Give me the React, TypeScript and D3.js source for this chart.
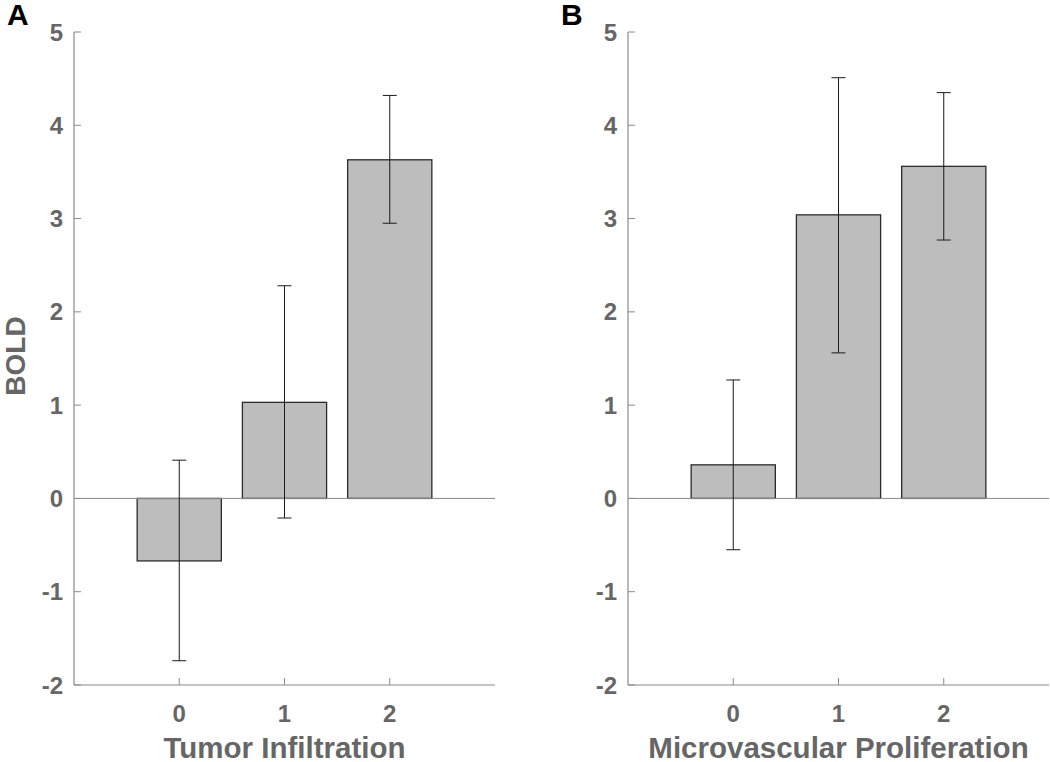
import React, { useEffect, useRef } from 'react';
import * as d3 from 'd3';

// categories and values
const categories = [0, 1, 2];
const tumorMeans = [-0.67, 1.03, 3.63];
const tumorLower = [-1.74, -0.21, 2.95];
const tumorUpper = [0.41, 2.28, 4.32];
const mvpMeans = [0.36, 3.04, 3.56];
const mvpLower = [-0.55, 1.56, 2.77];
const mvpUpper = [1.27, 4.51, 4.35];
const yTicks = [-2, -1, 0, 1, 2, 3, 4, 5];

const W = 1050;
const H = 762;
const FONT = '"Liberation Sans", Arial, Helvetica, sans-serif';
const AXIS = '#8a8a8a';
const LABEL = '#666666';

interface Panel {
    letter: string;
    title: string;
    means: number[];
    lower: number[];
    upper: number[];
    x0: number;
    x1: number;
}

const panels: Panel[] = [
    { letter: 'A', title: 'Tumor Infiltration', means: tumorMeans, lower: tumorLower, upper: tumorUpper, x0: 74, x1: 495 },
    { letter: 'B', title: 'Microvascular Proliferation', means: mvpMeans, lower: mvpLower, upper: mvpUpper, x0: 628, x1: 1049 },
];

const App: React.FC = () => {
    const svgRef = useRef<SVGSVGElement>(null);

    useEffect(() => {
        if (!svgRef.current) return;
        const svg = d3.select(svgRef.current);
        svg.selectAll('*').remove();

        const y = d3.scaleLinear().domain([-2, 5]).range([685, 32]);

        panels.forEach(p => {
            const x = d3.scaleLinear().domain([-1, 3]).range([p.x0, p.x1]);
            const bw = (x(1) - x(0)) * 0.8;
            const g = svg.append('g');

            // panel letter
            g.append('text')
                .attr('x', p.x0 - 67)
                .attr('y', 25)
                .attr('font-family', FONT)
                .attr('font-weight', 'bold')
                .attr('font-size', '30px')
                .attr('fill', '#000')
                .text(p.letter);

            // bars
            g.selectAll('rect.bar')
                .data(p.means)
                .enter()
                .append('rect')
                .attr('class', 'bar')
                .attr('x', (_, i) => x(categories[i]) - bw / 2)
                .attr('width', bw)
                .attr('y', d => y(Math.max(d, 0)))
                .attr('height', d => Math.abs(y(d) - y(0)))
                .attr('fill', '#bdbdbd')
                .attr('stroke', '#2b2b2b')
                .attr('stroke-width', 1.3);

            // zero line
            g.append('line')
                .attr('x1', p.x0)
                .attr('x2', p.x1)
                .attr('y1', y(0))
                .attr('y2', y(0))
                .attr('stroke', AXIS)
                .attr('stroke-width', 1);

            // error bars
            categories.forEach((c, i) => {
                const cx = x(c);
                const eb = g.append('g').attr('stroke', '#1a1a1a').attr('stroke-width', 1);
                eb.append('line').attr('x1', cx).attr('x2', cx).attr('y1', y(p.lower[i])).attr('y2', y(p.upper[i]));
                eb.append('line').attr('x1', cx - 7).attr('x2', cx + 7).attr('y1', y(p.upper[i])).attr('y2', y(p.upper[i]));
                eb.append('line').attr('x1', cx - 7).attr('x2', cx + 7).attr('y1', y(p.lower[i])).attr('y2', y(p.lower[i]));
            });

            // y axis
            g.append('line')
                .attr('x1', p.x0).attr('x2', p.x0)
                .attr('y1', y(5)).attr('y2', y(-2))
                .attr('stroke', AXIS).attr('stroke-width', 1.2);
            yTicks.forEach(t => {
                g.append('line')
                    .attr('x1', p.x0).attr('x2', p.x0 + 7)
                    .attr('y1', y(t)).attr('y2', y(t))
                    .attr('stroke', AXIS).attr('stroke-width', 1);
                g.append('text')
                    .attr('x', p.x0 - 11)
                    .attr('y', y(t))
                    .attr('dy', '0.36em')
                    .attr('text-anchor', 'end')
                    .attr('font-family', FONT)
                    .attr('font-weight', 'bold')
                    .attr('font-size', '24px')
                    .attr('fill', LABEL)
                    .text(t);
            });

            // x axis
            g.append('line')
                .attr('x1', p.x0).attr('x2', p.x1)
                .attr('y1', y(-2)).attr('y2', y(-2))
                .attr('stroke', AXIS).attr('stroke-width', 1.2);
            categories.forEach(c => {
                g.append('line')
                    .attr('x1', x(c)).attr('x2', x(c))
                    .attr('y1', y(-2)).attr('y2', y(-2) - 7)
                    .attr('stroke', AXIS).attr('stroke-width', 1);
                g.append('text')
                    .attr('x', x(c))
                    .attr('y', 722)
                    .attr('text-anchor', 'middle')
                    .attr('font-family', FONT)
                    .attr('font-weight', 'bold')
                    .attr('font-size', '24px')
                    .attr('fill', LABEL)
                    .text(c);
            });

            // x title
            g.append('text')
                .attr('x', x(1))
                .attr('y', 758)
                .attr('text-anchor', 'middle')
                .attr('font-family', FONT)
                .attr('font-weight', 'bold')
                .attr('font-size', '29.5px')
                .attr('fill', LABEL)
                .text(p.title);
        });

        // y title
        svg.append('text')
            .attr('transform', `translate(25, 356) rotate(-90)`)
            .attr('text-anchor', 'middle')
            .attr('font-family', FONT)
            .attr('font-weight', 'bold')
            .attr('font-size', '28px')
            .attr('fill', LABEL)
            .text('BOLD');
    }, []);

    return (
        <div style={{ position: 'absolute', left: 0, top: 0, background: '#fff' }}>
            <svg ref={svgRef} width={W} height={H} style={{ display: 'block' }}></svg>
        </div>
    );
};

export default App;
